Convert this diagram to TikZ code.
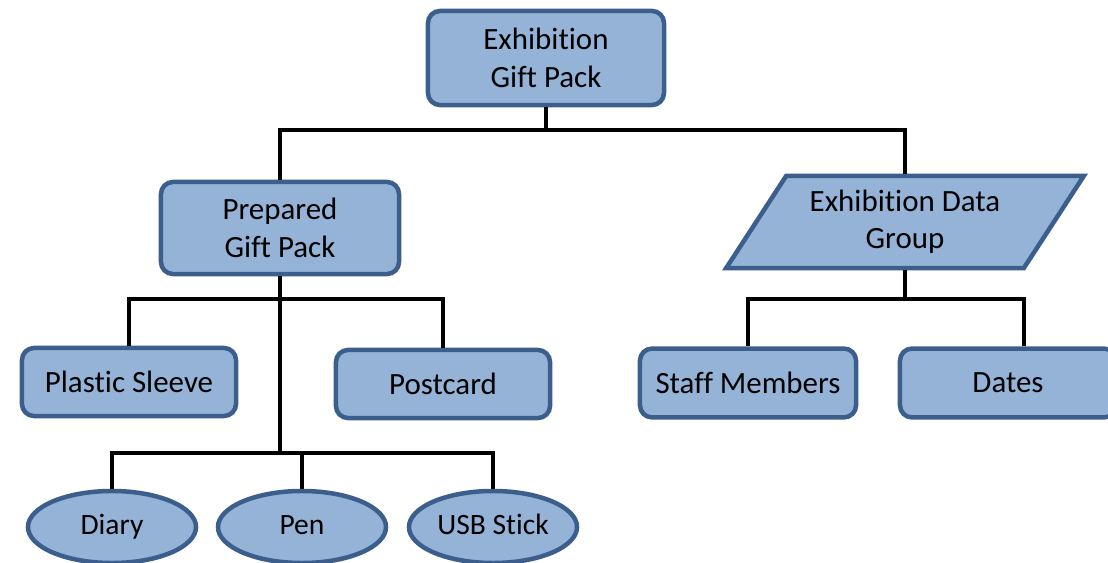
\documentclass[tikz,border=0pt]{standalone}
\usepackage{fontspec}
\setmainfont{Carlito}[Ligatures={NoCommon}]
\usetikzlibrary{shapes.geometric}
\definecolor{boxfill}{HTML}{95B3D7}
\definecolor{boxline}{HTML}{3B5E8C}
\tikzset{
    box/.style={draw=boxline, fill=boxfill, line width=3.2pt, rounded corners=0.3cm,
        align=center, inner sep=0pt, font=\fontsize{22}{26.5}\selectfont},
    oval/.style={ellipse, draw=boxline, fill=boxfill, line width=3.2pt, inner sep=0pt,
        minimum width=4.2cm, minimum height=1.8cm, text height=1.05em, text depth=0pt,
        font=\fontsize{21}{25}\selectfont},
    slanted/.style={trapezium, trapezium left angle=53, trapezium right angle=127,
        trapezium stretches=true, draw=boxline, fill=boxfill, line width=3.2pt,
        align=center, inner sep=0pt, minimum width=8.95cm, minimum height=2.3cm,
        font=\fontsize{22}{26.5}\selectfont},
    conn/.style={line width=2.5pt}
}
\begin{document}
\begin{tikzpicture}[x=0.025cm, y=-0.025cm]
    \useasboundingbox (0,0) rectangle (1108,563);

    % nodes
    \node[box, minimum width=5.9cm, minimum height=2.35cm] (gift) at (546,58) {Exhibition\\Gift Pack};
    \node[box, minimum width=5.95cm, minimum height=2.3cm] (prep) at (280,228) {Prepared\\Gift Pack};
    \node[slanted] (data) at (905,222) {Exhibition Data\\Group};

    \node[box, minimum width=5.35cm, minimum height=1.7cm] (sleeve) at (129,382) {Plastic Sleeve};
    \node[box, minimum width=5.35cm, minimum height=1.7cm] (post) at (443,384) {Postcard};
    \node[box, minimum width=5.4cm, minimum height=1.72cm] (staff) at (748,383) {Staff Members};
    \node[box, minimum width=5.4cm, minimum height=1.72cm] (dates) at (1008,383) {Dates};

    \node[oval] (diary) at (112,527) {Diary};
    \node[oval] (pen) at (302,527) {Pen};
    \node[oval] (usb) at (493,527) {USB Stick};

    % junctions
    \coordinate (j1) at (gift.south |- 0,130);
    \coordinate (j2) at (prep.south |- 0,299);
    \coordinate (j3) at (prep.south |- 0,453);
    \coordinate (j4) at (data.south |- 0,299);

    % connectors
    \draw[conn] (gift.south) -- (j1);
    \draw[conn] (prep.north) |- (j1) -| (data.north);
    \draw[conn] (prep.south) -- (j3);
    \draw[conn] (sleeve.north) |- (j2) -| (post.north);
    \draw[conn] (diary.north) |- (j3) -| (usb.north);
    \draw[conn] (pen.north) -- (pen.north |- j3);
    \draw[conn] (data.south) -- (j4);
    \draw[conn] (staff.north) |- (j4) -| ([xshift=0.4cm]dates.north);
\end{tikzpicture}
\end{document}
